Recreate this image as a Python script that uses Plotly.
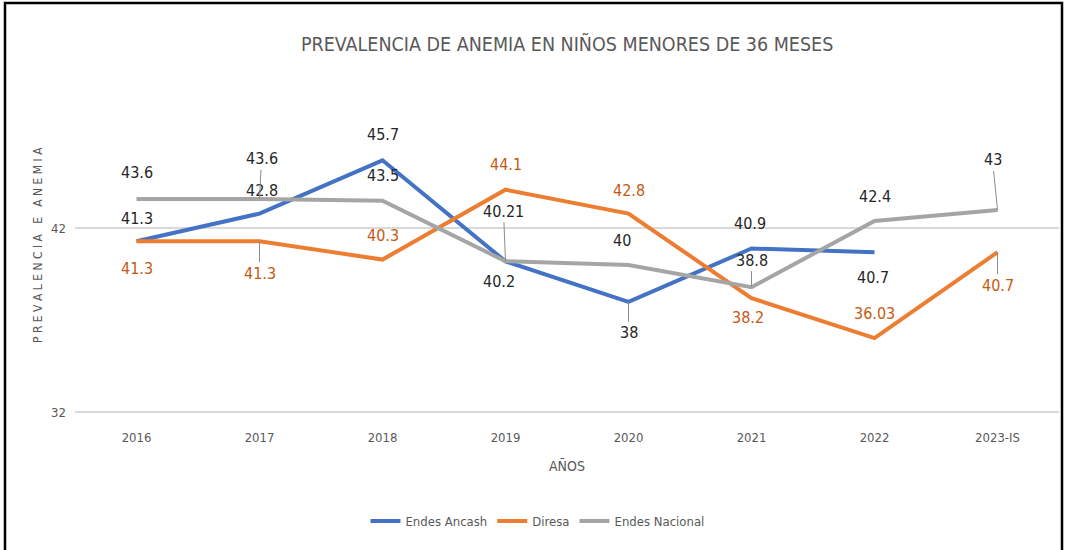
import plotly.graph_objects as go

years = ["2016", "2017", "2018", "2019", "2020", "2021", "2022", "2023-IS"]
ancash = [41.3, 42.8, 45.7, 40.2, 38.0, 40.9, 40.7, None]
diresa = [41.3, 41.3, 40.3, 44.1, 42.8, 38.2, 36.03, 40.7]
nacional = [43.6, 43.6, 43.5, 40.21, 40.0, 38.8, 42.4, 43.0]

ancash_txt = ["41.3", "42.8", "45.7", "40.2", "38", "40.9", "40.7", None]
diresa_txt = ["41.3", "41.3", "40.3", "44.1", "42.8", "38.2", "36.03", "40.7"]
nacional_txt = ["43.6", "43.6", "43.5", "40.21", "40", "38.8", "42.4", "43"]

# label placement (pixel offsets: xshift, yshift, leader line)
ancash_pos = [(0, 23, False), (2, 23, False), (0, 26, False), (-7, -20, False),
              (0, -31, True), (-2, 25, False), (-2, -25, False), None]
diresa_pos = [(0, -27, False), (0, -32, True), (0, 24, False), (0, 25, False),
              (0, 23, False), (-4, -19, False), (0, 25, False), (0, -33, True)]
nacional_pos = [(0, 26, False), (2, 40, True), (0, 25, False), (-2, 50, True),
                (-7, 25, False), (0, 27, True), (0, 24, False), (-5, 50, True)]

BLUE, ORANGE, GRAY = "#4472C4", "#ED7D31", "#A5A5A5"
FONT = "DejaVu Sans Condensed, Liberation Sans Narrow, Liberation Sans, sans-serif"

fig = go.Figure()
for name, vals, col in [("Endes Ancash", ancash, BLUE), ("Diresa", diresa, ORANGE),
                        ("Endes Nacional", nacional, GRAY)]:
    fig.add_trace(go.Scatter(x=years, y=vals, name=name, mode="lines",
                             line=dict(color=col, width=4), connectgaps=False))

annotations = []
for vals, txts, poss, tcol in [(ancash, ancash_txt, ancash_pos, "#262626"),
                               (diresa, diresa_txt, diresa_pos, "#C65911"),
                               (nacional, nacional_txt, nacional_pos, "#262626")]:
    for i, (v, t, p) in enumerate(zip(vals, txts, poss)):
        if v is None or p is None:
            continue
        dx, dy, leader = p
        if leader:
            annotations.append(dict(x=i, y=v, xref="x", yref="y", text=t,
                                    showarrow=True, arrowhead=0, arrowwidth=1,
                                    arrowcolor="#8C8C8C", ax=dx, ay=-dy,
                                    standoff=0, font=dict(family=FONT, size=16, color=tcol)))
        else:
            annotations.append(dict(x=i, y=v, xref="x", yref="y", text=t,
                                    showarrow=False, xshift=dx, yshift=dy,
                                    font=dict(family=FONT, size=16, color=tcol)))

# plot area pixel geometry
L, R, T, B = 75, 6, 118, 136
W, H = 1065, 550
pw, ph = W - L - R, H - T - B
annotations.append(dict(text="PREVALENCIA DE ANEMIA EN NIÑOS MENORES DE 36 MESES",
                        xref="paper", yref="paper", x=0.5, y=(H - B - 44) / ph,
                        showarrow=False, xanchor="center", yanchor="middle",
                        font=dict(family=FONT, size=19.5, color="#595959")))
annotations.append(dict(text="AÑOS", xref="paper", yref="paper", x=0.5,
                        y=(H - B - 466) / ph, showarrow=False, xanchor="center",
                        yanchor="middle", font=dict(family=FONT, size=14, color="#595959")))
annotations.append(dict(text="P R E V A L E N C I A   E   A N E M I A", xref="paper",
                        yref="paper", x=(38 - L) / pw, y=(H - B - 245) / ph,
                        showarrow=False, textangle=-90, xanchor="center", yanchor="middle",
                        font=dict(family=FONT, size=12, color="#595959")))

fig.update_layout(
    width=W, height=H,
    margin=dict(l=L, r=R, t=T, b=B, autoexpand=False),
    paper_bgcolor="white", plot_bgcolor="white",
    showlegend=True,
    legend=dict(orientation="h", x=0.47, xanchor="center", y=(H - B - 521) / ph,
                yanchor="middle", font=dict(family=FONT, size=13, color="#595959"),
                itemwidth=30, tracegroupgap=0),
    xaxis=dict(type="category", range=[-0.5, 7.5], showgrid=False, showline=False,
               ticks="", automargin=False, ticklabelstandoff=14,
               tickfont=dict(family=FONT, size=13, color="#595959")),
    yaxis=dict(range=[31.9, 48], tickvals=[32, 42], showgrid=True, gridcolor="#D9D9D9",
               gridwidth=1.5, zeroline=False, showline=False, ticks="", automargin=False,
               ticklabelstandoff=8,
               tickfont=dict(family=FONT, size=13, color="#595959")),
    annotations=annotations,
    shapes=[dict(type="rect", xref="paper", yref="paper",
                 x0=(5 - L) / pw, x1=(1062 - L) / pw,
                 y0=(H - B - 560) / ph, y1=(H - B - 3) / ph,
                 line=dict(color="black", width=2.5), fillcolor="rgba(0,0,0,0)")],
)

fig.write_html("out.html", config={"displayModeBar": False},
               post_script="document.body.style.margin='0';")
